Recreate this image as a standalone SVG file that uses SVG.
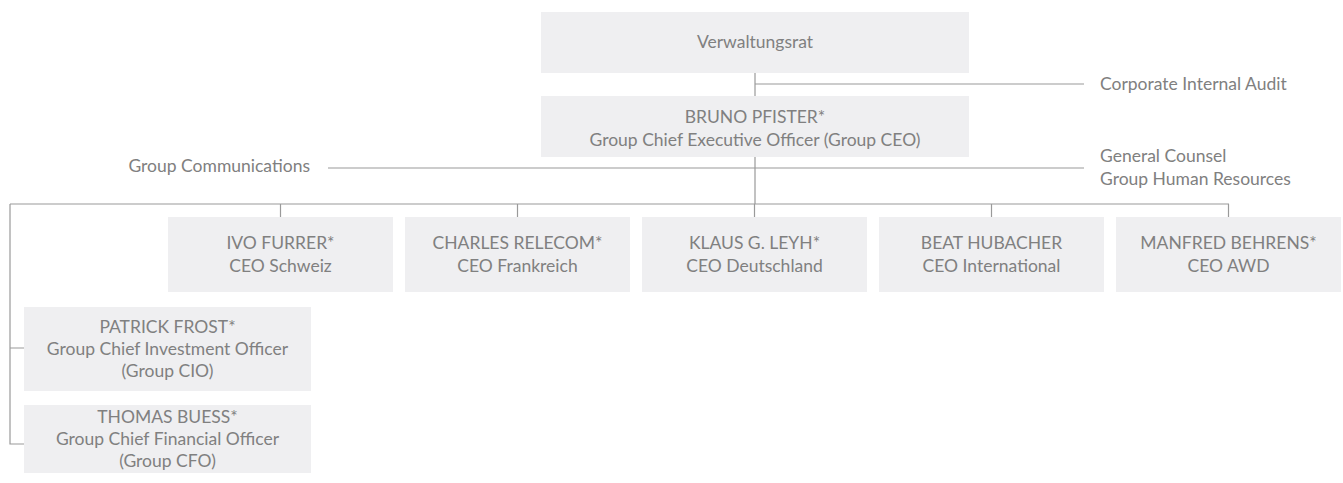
<svg xmlns="http://www.w3.org/2000/svg" width="1343" height="483" viewBox="0 0 1343 483">
<style>
.box{fill:#efeff1}
.t{font-family:Lato,"Open Sans","Liberation Sans",sans-serif;font-size:17.5px;fill:#808080}
.m{text-anchor:middle}
.e{text-anchor:end}
.c{stroke:#9a9a9a;stroke-width:1.2;fill:none}
</style>
<rect width="1343" height="483" fill="#fff"/>
<g id="connectors">
<path class="c" d="M755 73V96M755 84H1084M755 157V204M328 168H1084M10 204H1229M280.5 204V217M517.5 204V217M754.5 204V217M991.5 204V217M1228.5 204V217M10 204V444H24M10 348H24"/>
</g>
<g id="verwaltungsrat"><rect class="box" x="541" y="12" width="428" height="61"/><text class="t m" x="755" y="48">Verwaltungsrat</text></g>
<g id="audit"><text class="t" x="1100" y="90">Corporate Internal Audit</text></g>
<g id="ceo"><rect class="box" x="541" y="96" width="428" height="61"/><text class="t m" x="755" y="123">BRUNO PFISTER*</text><text class="t m" x="755" y="146">Group Chief Executive Officer (Group CEO)</text></g>
<g id="communications"><text class="t e" x="310" y="172">Group Communications</text></g>
<g id="counsel"><text class="t" x="1100" y="162">General Counsel</text><text class="t" x="1100" y="185">Group Human Resources</text></g>
<g id="furrer"><rect class="box" x="168" y="217" width="225" height="75"/><text class="t m" x="280.5" y="249">IVO FURRER*</text><text class="t m" x="280.5" y="272">CEO Schweiz</text></g>
<g id="relecom"><rect class="box" x="405" y="217" width="225" height="75"/><text class="t m" x="517.5" y="249">CHARLES RELECOM*</text><text class="t m" x="517.5" y="272">CEO Frankreich</text></g>
<g id="leyh"><rect class="box" x="642" y="217" width="225" height="75"/><text class="t m" x="754.5" y="249">KLAUS G. LEYH*</text><text class="t m" x="754.5" y="272">CEO Deutschland</text></g>
<g id="hubacher"><rect class="box" x="879" y="217" width="225" height="75"/><text class="t m" x="991.5" y="249">BEAT HUBACHER</text><text class="t m" x="991.5" y="272">CEO International</text></g>
<g id="behrens"><rect class="box" x="1116" y="217" width="225" height="75"/><text class="t m" x="1228.5" y="249">MANFRED BEHRENS*</text><text class="t m" x="1228.5" y="272">CEO AWD</text></g>
<g id="frost"><rect class="box" x="24" y="307" width="287" height="84"/><text class="t m" x="167.5" y="333">PATRICK FROST*</text><text class="t m" x="167.5" y="355">Group Chief Investment Officer</text><text class="t m" x="167.5" y="377">(Group CIO)</text></g>
<g id="buess"><rect class="box" x="24" y="405" width="287" height="68"/><text class="t m" x="167.5" y="423">THOMAS BUESS*</text><text class="t m" x="167.5" y="445">Group Chief Financial Officer</text><text class="t m" x="167.5" y="467">(Group CFO)</text></g>
</svg>
